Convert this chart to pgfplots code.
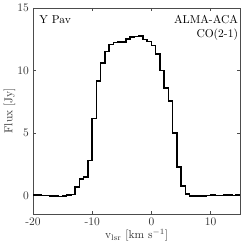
\documentclass[border=0pt]{standalone}
\usepackage{pgfplots}
\pgfplotsset{compat=1.18}
\begin{document}
\begin{tikzpicture}
\begin{axis}[
  width=180.4pt, height=179.7pt, scale only axis,
  xmin=-20, xmax=15, ymin=-1.5, ymax=15,
  xtick={-20,-10,0,10}, ytick={0,5,10,15},
  tick align=inside, major tick length=2.6pt,
  axis line style={black!70, line width=0.45pt},
  every tick/.style={black!70, line width=0.45pt},
  tick label style={black!80},
  /pgf/number format/assume math mode=true,
  label style={black!80},
  xlabel={v$_{\mathrm{lsr}}$ [km s$^{-1}$]},
  ylabel={Flux [Jy]},
  xlabel style={yshift=4.5pt},
  ylabel style={yshift=-5pt},
  clip=true,
]
\addplot[const plot mark left, black, line width=1.3pt] coordinates {
(-20.03,0.02) (-19.315,0.03) (-18.60,0.00) (-17.885,-0.02) (-17.17,-0.03)
(-16.455,-0.05) (-15.74,-0.07) (-15.025,-0.03) (-14.31,0.05) (-13.595,0.07)
(-12.88,0.66) (-12.165,1.30) (-11.45,1.46) (-10.735,2.80) (-10.02,6.14)
(-9.305,9.15) (-8.59,10.60) (-7.875,11.50) (-7.16,12.08) (-6.445,12.22)
(-5.73,12.26) (-5.015,12.27) (-4.30,12.50) (-3.585,12.65) (-2.87,12.72)
(-2.155,12.75) (-1.44,12.45) (-0.725,12.30) (-0.01,12.00) (0.705,11.30)
(1.42,10.00) (2.135,8.60) (2.85,7.55) (3.565,5.00) (4.28,2.26)
(4.995,0.74) (5.71,0.10) (6.425,-0.05) (7.14,-0.06) (7.855,-0.04)
(8.57,-0.03) (9.285,0.00) (10.00,0.02) (10.715,0.00) (11.43,0.01)
(12.145,0.03) (12.86,0.02) (13.575,0.00) (14.29,0.05) (15.005,0.05)
};
\node[anchor=north west, inner sep=0pt] at (rel axis cs:0.03,0.965) {Y Pav};
\node[anchor=north east, align=right, inner sep=0pt] at (rel axis cs:0.99,0.965) {ALMA-ACA\\CO(2-1)};
\end{axis}
\end{tikzpicture}
\end{document}
